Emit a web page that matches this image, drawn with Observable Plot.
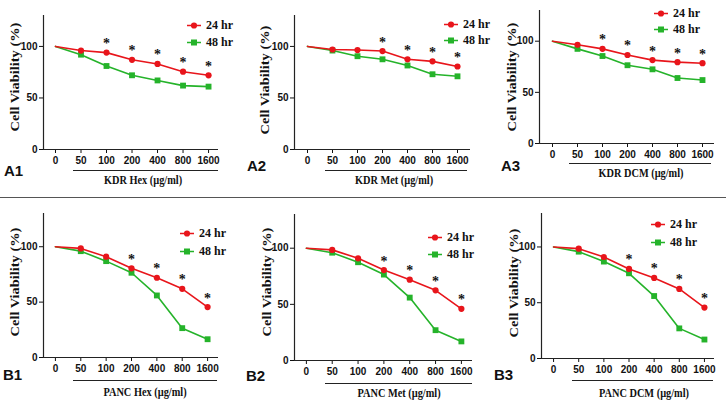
<!DOCTYPE html>
<html>
<head>
<meta charset="utf-8">
<script src="https://cdn.jsdelivr.net/npm/d3@7"></script>
<script src="https://cdn.jsdelivr.net/npm/@observablehq/plot@0.6"></script>
<style>
  html, body { margin: 0; padding: 0; background: #fff; }
  #root { position: relative; width: 726px; height: 409px; background: #fff; overflow: hidden; }
  .abs { position: absolute; white-space: nowrap; }
  .serif { font-family: "Liberation Serif", "Times New Roman", serif; font-weight: bold; color: #111; }
  .ytitle { font-size: 12px; transform: translate(-50%, -50%) rotate(-90deg) scaleX(1.2); }
  .xtitle { font-size: 12px; transform: translate(-50%, -50%) scaleX(0.86); }
  .plabel { font-family: "Liberation Sans", Arial, sans-serif; font-weight: bold; font-size: 15px; color: #111; transform: translateY(-50%); }
  .under { height: 0; border-top: 1px solid #222; }
  .legrow { position: absolute; display: flex; align-items: center; transform: translateY(-50%); }
  .legrow span { font-family: "Liberation Serif", "Times New Roman", serif; font-weight: bold; font-size: 12px; color: #111; margin-left: 5px; }
  .sep { position: absolute; left: 0; width: 726px; height: 0; border-top: 1.5px solid #555; }
</style>
</head>
<body>
<div id="root"></div>
<script>
// ---------- data ----------
const doses = ["0", "50", "100", "200", "400", "800", "1600"];
const seriesNames = ["24 hr", "48 hr"];

const kdrHex24 = [100, 96, 94, 87, 83, 75.5, 72];
const kdrHex48 = [100, 92, 81, 72, 67, 62, 61];
const kdrMet24 = [100, 97, 96.5, 95.5, 87.5, 85.5, 80.5];
const kdrMet48 = [100, 96, 90.5, 87.5, 81.5, 73, 71];
const kdrDcm24 = [100, 96.5, 92.5, 86.5, 81.5, 79.5, 78.5];
const kdrDcm48 = [100, 92.5, 85.5, 76.5, 72.5, 64, 62];
const pancHex24 = [100, 98.5, 91, 80.5, 72, 62, 45.5];
const pancHex48 = [100, 96, 87, 76.5, 56, 26.5, 16.5];
const pancMet24 = [100, 98.5, 91, 80.5, 72, 62.5, 46];
const pancMet48 = [100, 96, 87.5, 76.5, 56, 27, 17];
const pancDcm24 = [100, 98.5, 91, 80.3, 72.2, 62.4, 45.7];
const pancDcm48 = [100, 95.8, 86.9, 76.4, 56, 27, 17];

// significance stars (dose labels with *)
const starsA1 = ["100", "200", "400", "800", "1600"];
const starsA2 = ["200", "400", "800", "1600"];
const starsA3 = ["100", "200", "400", "800", "1600"];
const starsB  = ["200", "400", "800", "1600"];

const panelIds = ["A1", "A2", "A3", "B1", "B2", "B3"];
const xTitles = ["KDR Hex (µg/ml)", "KDR Met (µg/ml)", "KDR DCM (µg/ml)",
                 "PANC Hex (µg/ml)", "PANC Met (µg/ml)", "PANC DCM (µg/ml)"];
const yTitle = "Cell Viability (%)";

// ---------- layout (pixels) ----------
const panels = [
  {id: "A1", s24: kdrHex24, s48: kdrHex48, stars: starsA1,
   ax: 43, xEnd: 218, yTop: 15, y0: 149, dom: [-0.47, 6.39],
   yt: [15, 77], ul: [73, 218, 170], xt: [143, 180], pl: [4, 170], leg: [187, 25, 42]},
  {id: "A2", s24: kdrMet24, s48: kdrMet48, stars: starsA2,
   ax: 294, xEnd: 470, yTop: 15, y0: 149, dom: [-0.52, 6.52],
   yt: [265, 80], ul: [325, 467, 170], xt: [394, 180], pl: [247, 165], leg: [444, 24, 40]},
  {id: "A3", s24: kdrDcm24, s48: kdrDcm48, stars: starsA3,
   ax: 539, xEnd: 714, yTop: 10, y0: 143, dom: [-0.52, 6.48],
   yt: [512, 77], ul: [569, 711, 163], xt: [641, 173], pl: [501, 165], leg: [654, 13, 29]},
  {id: "B1", s24: pancHex24, s48: pancHex48, stars: starsB,
   ax: 43, xEnd: 218, yTop: 213, y0: 357, dom: [-0.47, 6.43],
   yt: [15, 282], ul: [73, 217, 380], xt: [145, 392], pl: [3, 374], leg: [180, 233, 251]},
  {id: "B2", s24: pancMet24, s48: pancMet48, stars: starsB,
   ax: 294, xEnd: 472, yTop: 214, y0: 360, dom: [-0.46, 6.43],
   yt: [267, 282], ul: [325, 472, 383], xt: [399, 393], pl: [246, 375], leg: [428, 237, 254]},
  {id: "B3", s24: pancDcm24, s48: pancDcm48, stars: starsB,
   ax: 541, xEnd: 714, yTop: 213, y0: 358, dom: [-0.48, 6.40],
   yt: [514, 283], ul: [572, 713, 380], xt: [644, 393], pl: [494, 374], leg: [651, 224, 242]}
];

const RED = "#e8151b";
const GREEN = "#25b32a";
const ML = 40, MR = 8, MT = 6, MB = 22;

const root = document.getElementById("root");

function addDiv(cls, left, top, text, extra) {
  const d = document.createElement("div");
  d.className = "abs " + cls;
  d.style.left = left + "px";
  d.style.top = top + "px";
  if (text != null) d.textContent = text;
  if (extra) Object.assign(d.style, extra);
  root.appendChild(d);
  return d;
}

// separator line between rows
const sep = document.createElement("div");
sep.className = "sep";
sep.style.top = "197px";
root.appendChild(sep);

panels.forEach((p, k) => {
  const rows24 = doses.map((d, i) => ({i, dose: d, v: p.s24[i], series: seriesNames[0]}));
  const rows48 = doses.map((d, i) => ({i, dose: d, v: p.s48[i], series: seriesNames[1]}));
  const starRows = rows24.filter(r => p.stars.includes(r.dose));

  const width = p.xEnd - p.ax + ML + MR;
  const height = p.y0 - p.yTop + MT + MB;

  const chart = Plot.plot({
    width, height,
    marginLeft: ML, marginRight: MR, marginTop: MT, marginBottom: MB,
    style: {
      fontFamily: '"Liberation Sans Narrow", "Arial Narrow", "Liberation Sans", Arial, sans-serif',
      fontSize: "10px", fontWeight: "bold", color: "#111", background: "transparent", overflow: "visible"
    },
    x: {type: "linear", domain: p.dom, ticks: doses.map((d, i) => i),
        tickFormat: i => doses[i], tickSize: 4, tickPadding: 3, label: null},
    y: {domain: [0, 130], ticks: [0, 50, 100], tickSize: 4, tickPadding: 2, label: null},
    marks: [
      Plot.ruleY([0], {stroke: "#222", strokeWidth: 1.2}),
      Plot.ruleX([p.dom[0]], {stroke: "#222", strokeWidth: 1.2}),
      Plot.line(rows48, {x: "i", y: "v", stroke: GREEN, strokeWidth: 1.6}),
      Plot.dot(rows48.filter(r => r.i > 0), {x: "i", y: "v", symbol: "square", r: 3.3, fill: GREEN, stroke: "none"}),
      Plot.line(rows24, {x: "i", y: "v", stroke: RED, strokeWidth: 1.6}),
      Plot.dot(rows24.filter(r => r.i > 0), {x: "i", y: "v", symbol: "circle", r: 3.1, fill: RED, stroke: "none"}),
      Plot.text(starRows, {x: "i", y: "v", text: () => "*", dy: -9, lineAnchor: "middle",
        fontSize: 14, fontWeight: "bold", fontFamily: '"Liberation Serif", "Times New Roman", serif', fill: "#111"})
    ]
  });
  chart.style.position = "absolute";
  chart.style.left = (p.ax - ML) + "px";
  chart.style.top = (p.yTop - MT) + "px";
  chart.style.overflow = "visible";
  root.appendChild(chart);

  // y title
  addDiv("serif ytitle", p.yt[0], p.yt[1], yTitle);
  // underline under doses 50..1600
  addDiv("under", p.ul[0], p.ul[2], null, {width: (p.ul[1] - p.ul[0]) + "px"});
  // x title
  addDiv("serif xtitle", p.xt[0], p.xt[1], xTitles[k]);
  // panel label
  addDiv("plabel", p.pl[0], p.pl[1], panelIds[k]);

  // legend
  [[RED, "circle", seriesNames[0], p.leg[1]], [GREEN, "square", seriesNames[1], p.leg[2]]].forEach(([c, sym, name, y]) => {
    const row = document.createElement("div");
    row.className = "legrow";
    row.style.left = p.leg[0] + "px";
    row.style.top = y + "px";
    const ns = "http://www.w3.org/2000/svg";
    const s = document.createElementNS(ns, "svg");
    s.setAttribute("width", 14); s.setAttribute("height", 8);
    const ln = document.createElementNS(ns, "line");
    ln.setAttribute("x1", 0); ln.setAttribute("x2", 14); ln.setAttribute("y1", 4); ln.setAttribute("y2", 4);
    ln.setAttribute("stroke", c); ln.setAttribute("stroke-width", 1.6);
    s.appendChild(ln);
    let m;
    if (sym === "circle") {
      m = document.createElementNS(ns, "circle");
      m.setAttribute("cx", 7); m.setAttribute("cy", 4); m.setAttribute("r", 3.1);
    } else {
      m = document.createElementNS(ns, "rect");
      m.setAttribute("x", 4); m.setAttribute("y", 1); m.setAttribute("width", 6); m.setAttribute("height", 6);
    }
    m.setAttribute("fill", c);
    s.appendChild(m);
    row.appendChild(s);
    const t = document.createElement("span");
    t.textContent = name;
    row.appendChild(t);
    root.appendChild(row);
  });
});
</script>
</body>
</html>
